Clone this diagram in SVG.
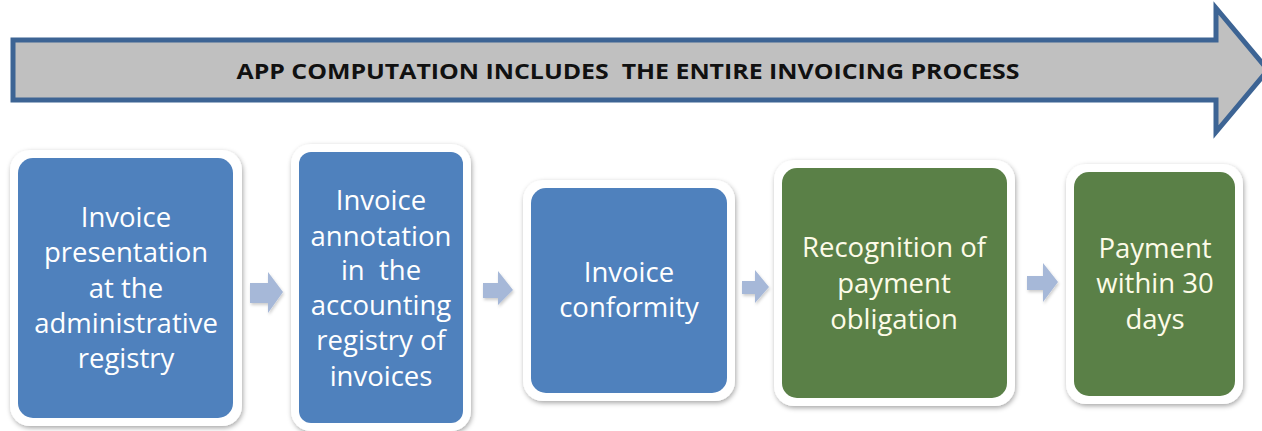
<svg xmlns="http://www.w3.org/2000/svg" width="1262" height="431" viewBox="0 0 1262 431">
<defs>
<filter id="sh" x="-10%" y="-10%" width="120%" height="120%">
<feDropShadow dx="1" dy="2" stdDeviation="2.5" flood-color="#000" flood-opacity="0.35"/>
</filter>
<filter id="sh2" x="-30%" y="-30%" width="160%" height="160%">
<feDropShadow dx="1" dy="2" stdDeviation="1.5" flood-color="#000" flood-opacity="0.2"/>
</filter>
<style>
.frame{fill:#ffffff;filter:url(#sh)}
.blue{fill:#4f81bd}
.green{fill:#5a8047}
.t{font-family:"Open Sans",Lato,sans-serif;font-size:27.5px;fill:#ffffff;text-anchor:middle;white-space:pre}
.tg{fill:#fdfbe8}
.sa{fill:#a6b8d8;filter:url(#sh2)}
.title{font-family:"Open Sans","Liberation Sans",sans-serif;font-weight:bold;font-size:22px;fill:#111;text-anchor:middle;white-space:pre}
</style>
</defs>
<rect width="1262" height="431" fill="#ffffff"/>
<g id="banner">
<path d="M13,40 H1216 V8 L1268,70 L1216,132 V100 H13 Z" fill="#c0c0c0" stroke="#3d6494" stroke-width="5" stroke-linejoin="miter"/>
<text class="title" x="628" y="79" textLength="783" lengthAdjust="spacingAndGlyphs" xml:space="preserve">APP COMPUTATION INCLUDES  THE ENTIRE INVOICING PROCESS</text>
</g>
<g id="connectors">
<path class="sa" d="M250,283 H268 V272 L283,292 L268,313 V303 H250 Z"/>
<path class="sa" d="M483,283 H498 V271 L513,290 L498,305 V298 H483 Z"/>
<path class="sa" d="M742,281 H755 V270 L769,287 L755,303 V294 H742 Z"/>
<path class="sa" d="M1027,276 H1043 V263 L1058,282 L1043,302 V290 H1027 Z"/>
</g>
<g id="node1">
<rect class="frame" x="10" y="150" width="232" height="276" rx="20"/>
<rect class="blue" x="18" y="158" width="215" height="260" rx="15"/>
<text class="t" x="126" y="227">Invoice</text>
<text class="t" x="126" y="262">presentation</text>
<text class="t" x="126" y="298">at the</text>
<text class="t" x="126" y="333">administrative</text>
<text class="t" x="126" y="368">registry</text>
</g>
<g id="node2">
<rect class="frame" x="291" y="144" width="180" height="287" rx="20"/>
<rect class="blue" x="299" y="152" width="164" height="271" rx="12"/>
<text class="t" x="381" y="210">Invoice</text>
<text class="t" x="381" y="246">annotation</text>
<text class="t" x="381" y="280" xml:space="preserve">in  the</text>
<text class="t" x="381" y="315">accounting</text>
<text class="t" x="381" y="350">registry of</text>
<text class="t" x="381" y="386">invoices</text>
</g>
<g id="node3">
<rect class="frame" x="523" y="180" width="212" height="221" rx="20"/>
<rect class="blue" x="531" y="188" width="196" height="205" rx="15"/>
<text class="t" x="629" y="282">Invoice</text>
<text class="t" x="629" y="317">conformity</text>
</g>
<g id="node4">
<rect class="frame" x="774" y="160" width="241" height="246" rx="20"/>
<rect class="green" x="782" y="168" width="225" height="230" rx="15"/>
<text class="t tg" x="894" y="257">Recognition of</text>
<text class="t tg" x="894" y="293">payment</text>
<text class="t tg" x="894" y="329">obligation</text>
</g>
<g id="node5">
<rect class="frame" x="1066" y="164" width="177" height="240" rx="20"/>
<rect class="green" x="1074" y="172" width="161" height="224" rx="15"/>
<text class="t tg" x="1155" y="258">Payment</text>
<text class="t tg" x="1155" y="293">within 30</text>
<text class="t tg" x="1155" y="329">days</text>
</g>
</svg>
